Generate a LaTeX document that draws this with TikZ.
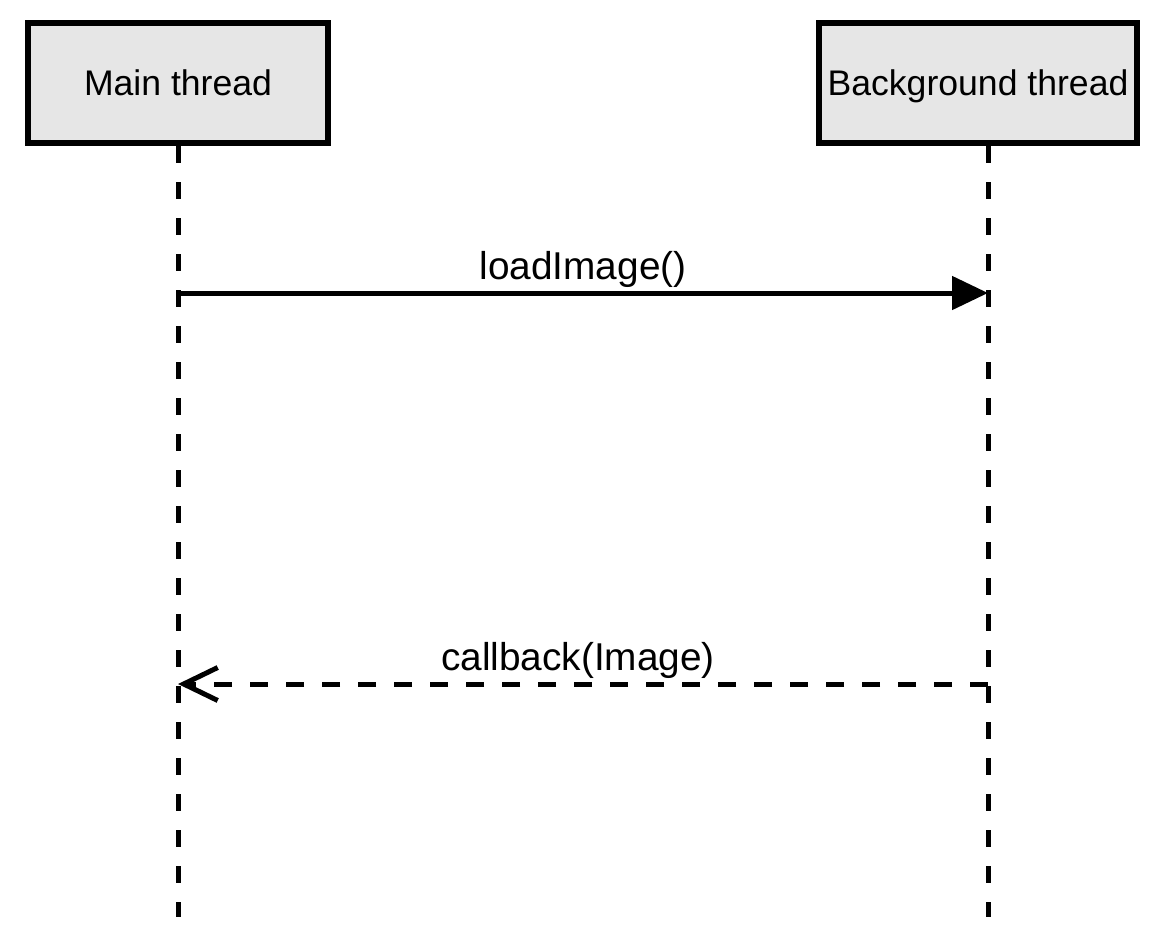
\documentclass[tikz,border=0pt]{standalone}
\usepackage{fontspec}
\setmainfont{Liberation Sans}
\usetikzlibrary{arrows.meta,positioning}
\definecolor{boxgray}{HTML}{E6E6E6}
\tikzstyle{Thread} = [draw, fill=boxgray, rectangle, line width=3pt, minimum width=150pt, minimum height=60pt, text depth=0pt, font=\fontsize{17.8}{21}\selectfont]
\tikzstyle{Lifeline} = [line width=2.5pt, dash pattern=on 8.5pt off 9.5pt]
\tikzstyle{Call} = [line width=2.5pt, -{Triangle[length=18pt,width=16.5pt]}]
\tikzstyle{Return} = [line width=2.5pt, dash pattern=on 9pt off 9pt, -{Straight Barb[length=17pt,width=16.5pt,line width=2.5pt]}]
\tikzstyle{Label} = [font=\fontsize{19.4}{23}\selectfont, inner sep=1.5pt]

\begin{document}
\begin{tikzpicture}[x=0.5pt,y=-0.5pt]
    \useasboundingbox (0,0) rectangle (1161,942);
    \node[Thread] (main) at (178,83) {Main thread};
    \node[Thread, minimum width=159pt] (bg) [right=242.5pt of main] {Background thread};
    % lifelines
    \coordinate (mainEnd) at (178,917);
    \coordinate (bgTop)   at (988,146);
    \coordinate (bgEnd)   at (988,917);
    \draw[Lifeline] (main.south) -- (mainEnd);
    \draw[Lifeline] (bgTop) -- (bgEnd);
    % messages
    \coordinate (callFrom) at (178,293);
    \coordinate (callTo)   at (988,293);
    \coordinate (retFrom)  at (988,684);
    \coordinate (retTo)    at (178,684);
    \draw[Call]   (callFrom) -- node[Label, above] (callText) {loadImage()} (callTo);
    \draw[Return] (retFrom)  -- node[Label, above, xshift=-2.5pt] (retText) {callback(Image)} (retTo);
  \end{tikzpicture}
\end{document}
